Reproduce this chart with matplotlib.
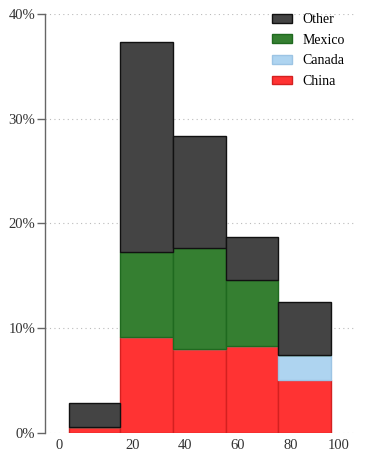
import numpy as np
import matplotlib
matplotlib.use("Agg")
import matplotlib.pyplot as plt
from matplotlib.ticker import FuncFormatter

# histogram bins (x values) and stacked shares in percent
bin_edges = [3.6, 21.7, 40.6, 59.4, 77.9, 96.8]
china = [0.6, 9.2, 8.0, 8.3, 5.1]
canada = [0.0, 0.0, 0.0, 0.0, 2.35]
mexico = [0.0, 8.1, 9.7, 6.3, 0.0]
other = [2.3, 20.0, 10.7, 4.1, 5.05]
# x tick labels sit where the source chart puts them
x_tick_pos = [0, 26.0, 44.8, 63.7, 82.6, 99.6]
x_tick_labels = ["0", "20", "40", "60", "80", "100"]
y_ticks = [0, 10, 20, 30, 40]

plt.rcParams["font.family"] = ["Liberation Serif", "DejaVu Serif"]

fig = plt.figure(figsize=(3.71, 4.53), dpi=100)
ax = fig.add_axes([45 / 371, 20 / 453, 310 / 371, 419 / 453])

left = np.array(bin_edges[:-1])
width = np.diff(bin_edges)

series = [
    ("China", china, "#ff3333", "#d42020"),
    ("Canada", canada, "#aed4f0", "#9cc4e4"),
    ("Mexico", mexico, "#357f31", "#1f6a1f"),
    ("Other", other, "#444444", "#111111"),
]

bottom = np.zeros(len(left))
handles = []
for name, vals, fc, ec in series:
    vals = np.array(vals)
    h = ax.bar(left, vals, width=width, bottom=bottom, align="edge",
               color=fc, edgecolor=ec, linewidth=1.0, label=name, zorder=3)
    handles.append(h)
    bottom += vals

ax.set_xlim(-5.0, 105.3)
ax.set_ylim(0, 40)
ax.set_xticks(x_tick_pos)
ax.set_xticklabels(x_tick_labels)
ax.set_yticks(y_ticks)
ax.yaxis.set_major_formatter(FuncFormatter(lambda v, p: f"{v:.0f}%"))

ax.grid(axis="y", color="#bbbbbb", linestyle=(0, (1, 3)), linewidth=0.8, zorder=0)

for s in ["top", "right", "bottom"]:
    ax.spines[s].set_visible(False)
ax.spines["left"].set_color("#666666")
ax.spines["left"].set_linewidth(1.0)

ax.tick_params(axis="x", length=0, labelsize=10.5, pad=4, colors="#333333")
ax.tick_params(axis="y", length=6, width=1, color="#666666", labelsize=10.5,
               labelcolor="#333333", pad=1)

leg = fig.legend(handles[::-1], [s[0] for s in series][::-1], loc="upper left",
                 bbox_to_anchor=(272 / 371, 1 - 13 / 453), frameon=False,
                 fontsize=10, handlelength=1.45, handleheight=0.6,
                 labelspacing=0.55, handletextpad=0.75, borderpad=0.0,
                 borderaxespad=0.0)

fig.savefig("out.png", dpi=100)
